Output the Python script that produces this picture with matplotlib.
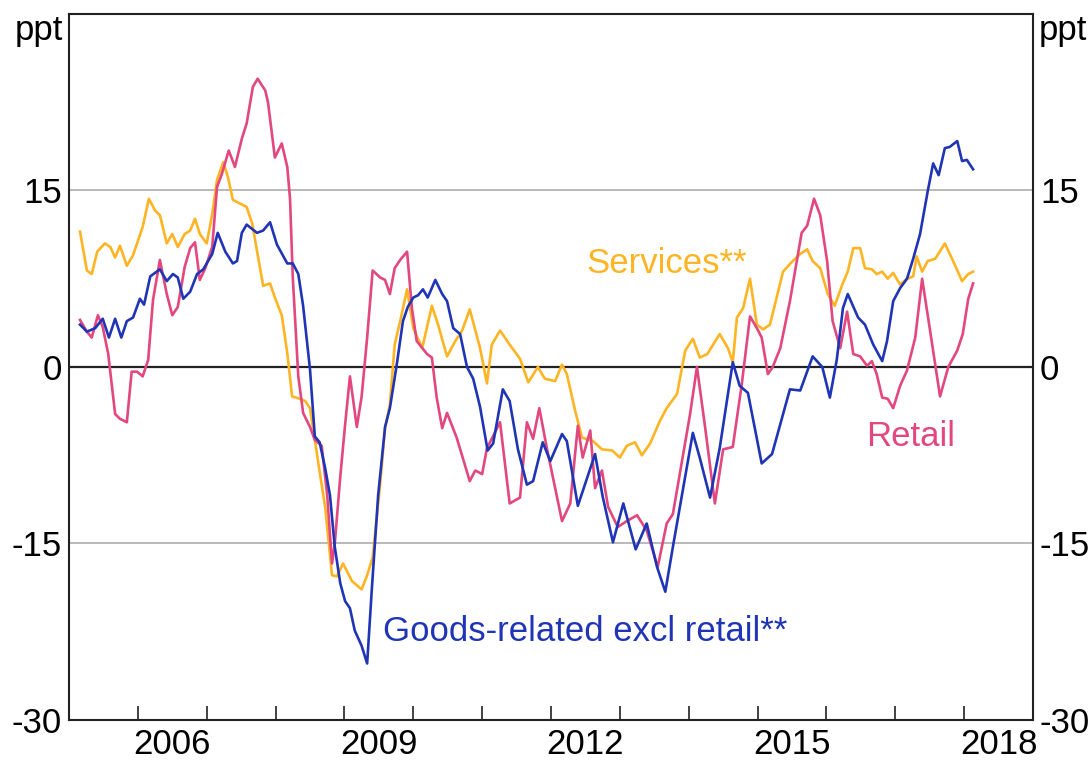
import matplotlib
matplotlib.use("Agg")
import matplotlib.pyplot as plt
from matplotlib.ticker import FixedLocator, NullFormatter

# values (decimal years, percentage points)
retail_dates = [
    2005.16, 2005.26, 2005.33, 2005.42, 2005.49, 2005.57, 2005.67, 2005.74, 2005.84, 2005.91,
    2005.99, 2006.07, 2006.15, 2006.22, 2006.32, 2006.42, 2006.50, 2006.58, 2006.68, 2006.76,
    2006.83, 2006.90, 2006.98, 2007.08, 2007.15, 2007.22, 2007.32, 2007.41, 2007.51, 2007.58,
    2007.67, 2007.74, 2007.85, 2007.89, 2007.99, 2008.09, 2008.17, 2008.21, 2008.25, 2008.33,
    2008.40, 2008.50, 2008.57, 2008.67, 2008.75, 2008.82, 2008.86, 2008.94, 2009.01, 2009.08,
    2009.18, 2009.25, 2009.33, 2009.41, 2009.52, 2009.59, 2009.66, 2009.73, 2009.81, 2009.91,
    2009.98, 2010.05, 2010.20, 2010.27, 2010.34, 2010.42, 2010.49, 2010.63, 2010.82, 2010.90,
    2011.00, 2011.07, 2011.26, 2011.40, 2011.55, 2011.65, 2011.74, 2011.83, 2011.94, 2012.16,
    2012.28, 2012.39, 2012.46, 2012.57, 2012.64, 2012.74, 2012.83, 2012.97, 2013.10, 2013.25,
    2013.39, 2013.55, 2013.68, 2013.77, 2013.87, 2014.02, 2014.12, 2014.24, 2014.38, 2014.50,
    2014.64, 2014.77, 2014.89, 2014.99, 2015.06, 2015.15, 2015.22, 2015.33, 2015.47, 2015.64,
    2015.72, 2015.82, 2015.91, 2016.01, 2016.09, 2016.20, 2016.30, 2016.39, 2016.49, 2016.59,
    2016.66, 2016.73, 2016.81, 2016.89, 2016.97, 2017.07, 2017.17, 2017.29, 2017.39, 2017.50,
    2017.65, 2017.77, 2017.90, 2017.98, 2018.06, 2018.13,
]
retail_values = [
    4.0, 3.0, 2.5, 4.4, 3.4, 1.1, -4.0, -4.4, -4.7, -0.4,
    -0.4, -0.8, 0.6, 5.7, 9.1, 6.2, 4.4, 5.1, 8.5, 10.1,
    10.6, 7.4, 8.4, 10.2, 15.3, 16.4, 18.4, 17.0, 19.4, 20.7,
    23.8, 24.5, 23.5, 22.5, 17.8, 19.0, 17.0, 14.3, 7.6, -0.8,
    -3.9, -5.1, -6.2, -6.7, -10.9, -16.7, -15.0, -9.3, -4.9, -0.8,
    -5.1, -2.5, 2.5, 8.2, 7.6, 7.4, 6.2, 8.4, 9.1, 9.8,
    5.0, 2.2, 1.1, 0.8, -2.6, -5.2, -3.9, -6.0, -9.7, -8.8,
    -9.1, -6.9, -4.7, -11.6, -11.1, -4.7, -6.1, -3.5, -6.9, -13.1,
    -11.6, -5.0, -7.7, -5.4, -10.3, -8.8, -11.9, -13.6, -13.1, -12.6,
    -13.9, -17.0, -13.3, -12.5, -9.1, -4.0, 0.0, -5.2, -11.6, -7.0,
    -6.8, -1.5, 4.3, 3.3, 2.5, -0.6, 0.0, 1.6, 5.6, 11.4,
    12.0, 14.3, 12.9, 9.0, 3.9, 1.6, 4.7, 1.1, 0.9, 0.1,
    0.5, -0.6, -2.6, -2.7, -3.5, -1.6, -0.3, 2.5, 7.5, 3.3,
    -2.5, 0.0, 1.4, 2.8, 5.8, 7.1,
]

goods_dates = [
    2005.16, 2005.26, 2005.38, 2005.49, 2005.58, 2005.67, 2005.76, 2005.84, 2005.93, 2006.03,
    2006.09, 2006.18, 2006.32, 2006.42, 2006.51, 2006.58, 2006.66, 2006.76, 2006.86, 2006.95,
    2007.08, 2007.16, 2007.27, 2007.38, 2007.44, 2007.51, 2007.58, 2007.73, 2007.82, 2007.92,
    2008.02, 2008.17, 2008.25, 2008.33, 2008.40, 2008.50, 2008.57, 2008.64, 2008.72, 2008.79,
    2008.86, 2008.94, 2009.01, 2009.08, 2009.15, 2009.25, 2009.33, 2009.40, 2009.49, 2009.59,
    2009.66, 2009.76, 2009.85, 2009.92, 2010.00, 2010.07, 2010.14, 2010.21, 2010.32, 2010.42,
    2010.49, 2010.58, 2010.68, 2010.78, 2010.87, 2010.97, 2011.08, 2011.16, 2011.30, 2011.40,
    2011.52, 2011.65, 2011.74, 2011.88, 2011.99, 2012.16, 2012.23, 2012.39, 2012.64, 2012.75,
    2012.90, 2013.05, 2013.23, 2013.39, 2013.54, 2013.66, 2013.77, 2014.06, 2014.16, 2014.31,
    2014.45, 2014.64, 2014.74, 2014.86, 2015.06, 2015.21, 2015.47, 2015.62, 2015.80, 2015.94,
    2016.05, 2016.15, 2016.24, 2016.31, 2016.46, 2016.56, 2016.68, 2016.81, 2016.88, 2016.97,
    2017.07, 2017.17, 2017.26, 2017.36, 2017.47, 2017.55, 2017.63, 2017.72, 2017.79, 2017.90,
    2017.97, 2018.04, 2018.13,
]
goods_values = [
    3.6, 3.0, 3.3, 4.1, 2.5, 4.1, 2.5, 3.9, 4.2, 5.8,
    5.3, 7.7, 8.3, 7.3, 7.9, 7.6, 5.8, 6.4, 7.9, 8.3,
    9.6, 11.4, 9.8, 8.8, 9.0, 11.4, 12.1, 11.4, 11.6, 12.3,
    10.4, 8.8, 8.8, 7.9, 5.2, -0.2, -5.9, -6.4, -8.6, -10.9,
    -15.3, -18.4, -19.9, -20.5, -22.4, -23.7, -25.2, -18.7, -10.9, -5.1,
    -3.5, 0.2, 3.9, 5.1, 5.9, 6.1, 6.6, 5.9, 7.4, 6.2,
    5.6, 3.3, 2.8, 0.0, -1.0, -3.4, -7.1, -6.5, -1.9, -2.9,
    -7.0, -10.0, -9.7, -6.4, -8.0, -5.7, -6.3, -11.8, -7.4, -11.0,
    -14.9, -11.6, -15.5, -13.3, -17.0, -19.1, -15.3, -5.6, -7.7, -11.1,
    -6.9, 0.4, -1.6, -2.2, -8.2, -7.4, -1.9, -2.0, 0.9, 0.0,
    -2.6, 0.6, 5.0, 6.2, 4.2, 3.6, 1.9, 0.5, 2.2, 5.6,
    6.7, 7.5, 9.2, 11.3, 14.9, 17.3, 16.3, 18.6, 18.7, 19.2,
    17.5, 17.6, 16.8,
]

services_dates = [
    2005.16, 2005.26, 2005.33, 2005.41, 2005.52, 2005.60, 2005.67, 2005.74, 2005.84, 2005.93,
    2006.07, 2006.16, 2006.25, 2006.32, 2006.42, 2006.50, 2006.58, 2006.68, 2006.76, 2006.83,
    2006.90, 2007.00, 2007.08, 2007.15, 2007.24, 2007.31, 2007.38, 2007.48, 2007.58, 2007.66,
    2007.73, 2007.82, 2007.92, 2007.99, 2008.09, 2008.17, 2008.24, 2008.35, 2008.43, 2008.50,
    2008.57, 2008.64, 2008.72, 2008.82, 2008.89, 2008.98, 2009.11, 2009.25, 2009.33, 2009.41,
    2009.52, 2009.59, 2009.66, 2009.73, 2009.81, 2009.91, 2010.00, 2010.13, 2010.27, 2010.36,
    2010.49, 2010.61, 2010.71, 2010.82, 2010.97, 2011.07, 2011.14, 2011.26, 2011.40, 2011.55,
    2011.67, 2011.81, 2011.91, 2012.06, 2012.16, 2012.23, 2012.35, 2012.45, 2012.61, 2012.74,
    2012.89, 2013.00, 2013.10, 2013.22, 2013.32, 2013.44, 2013.58, 2013.68, 2013.83, 2013.95,
    2014.06, 2014.16, 2014.27, 2014.45, 2014.57, 2014.64, 2014.70, 2014.79, 2014.89, 2014.99,
    2015.08, 2015.18, 2015.37, 2015.51, 2015.62, 2015.72, 2015.80, 2015.91, 2016.02, 2016.12,
    2016.23, 2016.31, 2016.39, 2016.49, 2016.56, 2016.66, 2016.73, 2016.81, 2016.89, 2016.97,
    2017.07, 2017.17, 2017.26, 2017.31, 2017.39, 2017.47, 2017.58, 2017.72, 2017.84, 2017.97,
    2018.06, 2018.13,
]
services_values = [
    11.5, 8.2, 7.9, 9.8, 10.5, 10.2, 9.3, 10.3, 8.6, 9.5,
    11.9, 14.3, 13.3, 12.9, 10.5, 11.3, 10.2, 11.3, 11.6, 12.6,
    11.3, 10.5, 13.0, 15.9, 17.4, 16.1, 14.2, 13.9, 13.6, 12.2,
    9.9, 6.9, 7.1, 5.9, 4.4, 1.2, -2.5, -2.7, -2.9, -3.5,
    -6.2, -8.9, -11.9, -17.7, -17.8, -16.7, -18.2, -18.9, -17.7, -16.2,
    -9.9, -5.2, -3.2, 1.9, 3.9, 6.6, 3.3, 1.6, 5.2, 3.6,
    0.9, 2.2, 3.1, 4.9, 1.6, -1.4, 1.9, 3.1, 1.9, 0.7,
    -1.3, 0.0, -1.0, -1.2, 0.2, -0.6, -3.7, -6.0, -6.3, -7.0,
    -7.1, -7.7, -6.7, -6.4, -7.5, -6.5, -4.6, -3.5, -2.3, 1.4,
    2.4, 0.8, 1.1, 2.8, 1.6, 0.4, 4.2, 5.0, 7.5, 3.6,
    3.2, 3.6, 8.1, 9.0, 9.6, 10.0, 9.0, 8.4, 6.2, 5.2,
    7.0, 8.1, 10.1, 10.1, 8.4, 8.3, 7.9, 8.1, 7.5, 8.0,
    7.0, 7.5, 7.7, 9.4, 8.1, 9.0, 9.2, 10.5, 9.0, 7.3,
    7.9, 8.1,
]

year_labels = ["2006", "2009", "2012", "2015", "2018"]
y_ticks = [-30, -15, 0, 15]

RETAIL = "#e2477e"
GOODS = "#2035b5"
SERVICES = "#ffb424"
FONT = ["Liberation Sans", "DejaVu Sans"]
FS = 25
LW = 1.9

plt.rcParams["font.family"] = FONT

fig = plt.figure(figsize=(10.9, 7.73), dpi=100)
ax = fig.add_axes([0.0633, 0.0686, 0.8844, 0.9133])

for y in [-15, 15]:
    ax.axhline(y, color="#b3b3b3", lw=1.3, zorder=1)
ax.axhline(0, color="#222222", lw=1.6, zorder=1)

ax.plot(services_dates, services_values, color=SERVICES, lw=LW, zorder=3)
ax.plot(retail_dates, retail_values, color=RETAIL, lw=LW, zorder=4)
ax.plot(goods_dates, goods_values, color=GOODS, lw=LW, zorder=5)

ax.set_xlim(2005, 2019)
ax.set_ylim(-30, 30)

# x axis: year ticks inside, labels centred on the year
ax.xaxis.set_major_locator(FixedLocator(list(range(2005, 2020))))
ax.xaxis.set_major_formatter(NullFormatter())
ax.xaxis.set_minor_locator(FixedLocator([int(y) + 0.5 for y in year_labels]))
ax.set_xticklabels(year_labels, minor=True)
ax.tick_params(axis="x", which="major", direction="in", length=10, width=1.2,
               color="#222222", top=False)
ax.tick_params(axis="x", which="minor", length=0, pad=6, labelsize=FS)

ax.set_yticks(y_ticks)
ax.set_yticklabels([str(v) for v in y_ticks])
ax.tick_params(axis="y", length=0, pad=5, labelsize=FS, labelright=True)

for s in ax.spines.values():
    s.set_linewidth(1.5)
    s.set_color("#222222")

ax.text(-0.006, 1.0, "ppt", transform=ax.transAxes, ha="right", va="top", fontsize=FS)
ax.text(1.006, 1.0, "ppt", transform=ax.transAxes, ha="left", va="top", fontsize=FS)

ax.text(2012.52, 8.8, "Services**", color=SERVICES, fontsize=FS, ha="left", va="center")
ax.text(2009.56, -22.5, "Goods-related excl retail**", color=GOODS, fontsize=FS,
        ha="left", va="center")
ax.text(2016.57, -5.9, "Retail", color=RETAIL, fontsize=FS, ha="left", va="center")

fig.savefig("out.png", dpi=100)
